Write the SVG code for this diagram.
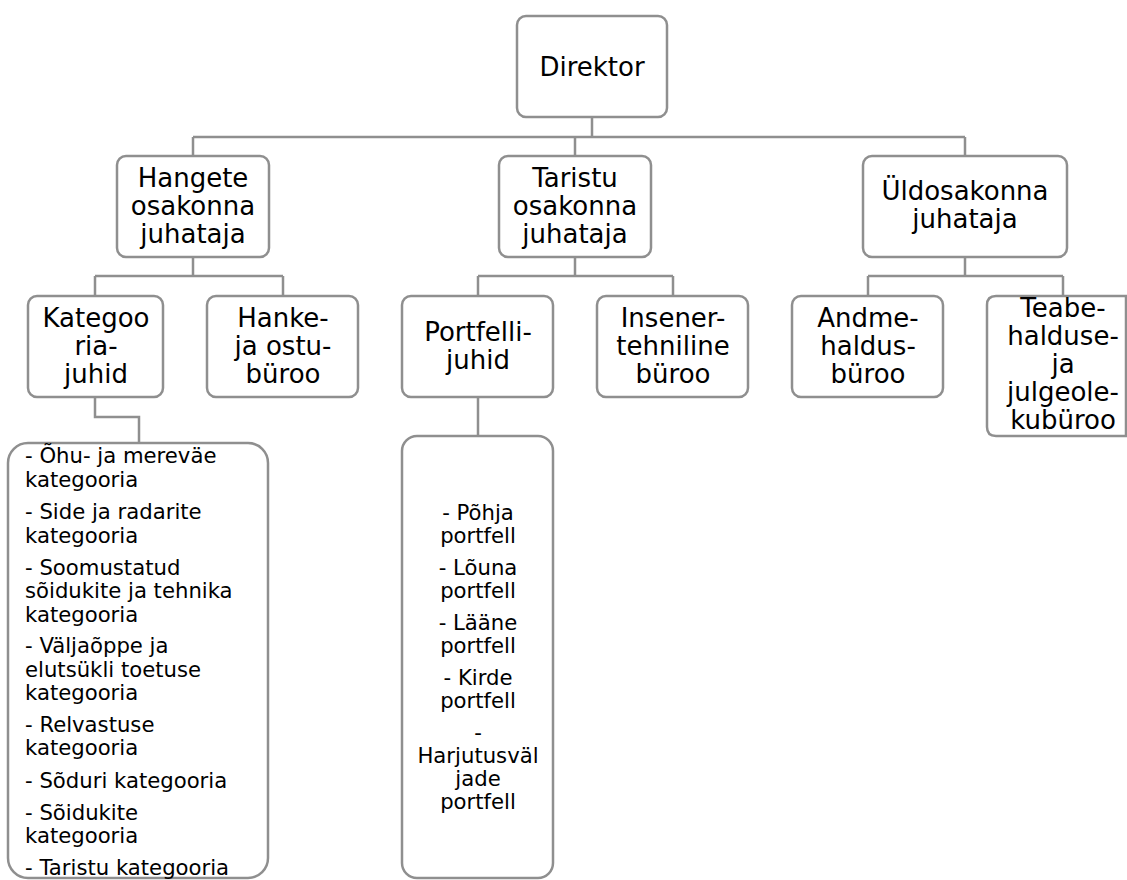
<svg xmlns="http://www.w3.org/2000/svg" width="1127" height="880" viewBox="0 0 1127 880">
  <style>
    .box { fill: #ffffff; stroke: #8f8f8f; stroke-width: 2.5; }
    .link { fill: none; stroke: #8f8f8f; stroke-width: 2.5; }
    .big { font-family: "DejaVu Sans", Verdana, sans-serif; font-size: 26px; fill: #000000; text-anchor: middle; }
    .small { font-family: "DejaVu Sans", Verdana, sans-serif; font-size: 21.2px; fill: #000000; }
    .mid { text-anchor: middle; }
  </style>
  <rect width="1127" height="880" fill="#ffffff"/>

  <!-- tree connectors -->
  <g id="connectors">
    <path class="link" d="M592 117 V137 M193 137 H965 M193 137 V156 M575 137 V156 M965 137 V156"/>
    <path class="link" d="M193 257 V276 M95 276 H283 M95 276 V296 M283 276 V296"/>
    <path class="link" d="M575 257 V276 M478 276 H673 M478 276 V296 M673 276 V296"/>
    <path class="link" d="M965 257 V276 M868 276 H1063 M868 276 V296 M1063 276 V296"/>
    <path class="link" d="M95 397 V417 H139 V443"/>
    <path class="link" d="M478 397 V436"/>
  </g>

  <g id="direktor">
    <rect class="box" x="517" y="16" width="150" height="101" rx="9"/>
    <text class="big" x="592" y="76">Direktor</text>
  </g>

  <g id="hangete">
    <rect class="box" x="117" y="156" width="152" height="101" rx="9"/>
    <text class="big" x="193" y="187">Hangete</text>
    <text class="big" x="193" y="215">osakonna</text>
    <text class="big" x="193" y="243">juhataja</text>
  </g>

  <g id="taristu">
    <rect class="box" x="499" y="156" width="152" height="101" rx="9"/>
    <text class="big" x="575" y="187">Taristu</text>
    <text class="big" x="575" y="215">osakonna</text>
    <text class="big" x="575" y="243">juhataja</text>
  </g>

  <g id="uldosakond">
    <rect class="box" x="863" y="156" width="204" height="101" rx="9"/>
    <text class="big" x="965" y="200">Üldosakonna</text>
    <text class="big" x="965" y="228">juhataja</text>
  </g>

  <g id="kategooriajuhid">
    <rect class="box" x="28" y="296" width="135" height="101" rx="9"/>
    <text class="big" x="96" y="327">Kategoo</text>
    <text class="big" x="96" y="355">ria-</text>
    <text class="big" x="96" y="383">juhid</text>
  </g>

  <g id="hankeburoo">
    <rect class="box" x="207" y="296" width="151" height="101" rx="9"/>
    <text class="big" x="283" y="327">Hanke-</text>
    <text class="big" x="283" y="355">ja ostu-</text>
    <text class="big" x="283" y="383">büroo</text>
  </g>

  <g id="portfellijuhid">
    <rect class="box" x="402" y="296" width="151" height="101" rx="9"/>
    <text class="big" x="478" y="341">Portfelli-</text>
    <text class="big" x="478" y="369">juhid</text>
  </g>

  <g id="inseneriburoo">
    <rect class="box" x="597" y="296" width="151" height="101" rx="9"/>
    <text class="big" x="673" y="327">Insener-</text>
    <text class="big" x="673" y="355">tehniline</text>
    <text class="big" x="673" y="383">büroo</text>
  </g>

  <g id="andmehaldus">
    <rect class="box" x="792" y="296" width="151" height="101" rx="9"/>
    <text class="big" x="868" y="327">Andme-</text>
    <text class="big" x="868" y="355">haldus-</text>
    <text class="big" x="868" y="383">büroo</text>
  </g>

  <g id="teabehaldus">
    <path class="box" d="M996 296 H1126 V436 H996 Q987 436 987 427 V305 Q987 296 996 296 Z"/>
    <text class="big" x="1063" y="317">Teabe-</text>
    <text class="big" x="1063" y="345">halduse-</text>
    <text class="big" x="1063" y="373">ja</text>
    <text class="big" x="1063" y="401">julgeole-</text>
    <text class="big" x="1063" y="429">kubüroo</text>
  </g>

  <g id="kategooriad">
    <rect class="box" x="8" y="443" width="260" height="435" rx="20"/>
    <text class="small" x="25" y="463">- Õhu- ja mereväe</text>
    <text class="small" x="25" y="487">kategooria</text>
    <text class="small" x="25" y="519">- Side ja radarite</text>
    <text class="small" x="25" y="543">kategooria</text>
    <text class="small" x="25" y="575">- Soomustatud</text>
    <text class="small" x="25" y="598">sõidukite ja tehnika</text>
    <text class="small" x="25" y="622">kategooria</text>
    <text class="small" x="25" y="653">- Väljaõppe ja</text>
    <text class="small" x="25" y="677">elutsükli toetuse</text>
    <text class="small" x="25" y="700">kategooria</text>
    <text class="small" x="25" y="732">- Relvastuse</text>
    <text class="small" x="25" y="755">kategooria</text>
    <text class="small" x="25" y="788">- Sõduri kategooria</text>
    <text class="small" x="25" y="820">- Sõidukite</text>
    <text class="small" x="25" y="843">kategooria</text>
    <text class="small" x="25" y="875">- Taristu kategooria</text>
  </g>

  <g id="portfellid">
    <rect class="box" x="402" y="436" width="151" height="442" rx="15"/>
    <text class="small mid" x="478" y="520">- Põhja</text>
    <text class="small mid" x="478" y="543">portfell</text>
    <text class="small mid" x="478" y="575">- Lõuna</text>
    <text class="small mid" x="478" y="598">portfell</text>
    <text class="small mid" x="478" y="630">- Lääne</text>
    <text class="small mid" x="478" y="653">portfell</text>
    <text class="small mid" x="478" y="685">- Kirde</text>
    <text class="small mid" x="478" y="708">portfell</text>
    <text class="small mid" x="478" y="740">-</text>
    <text class="small mid" x="478" y="763">Harjutusväl</text>
    <text class="small mid" x="478" y="786">jade</text>
    <text class="small mid" x="478" y="809">portfell</text>
  </g>
</svg>
